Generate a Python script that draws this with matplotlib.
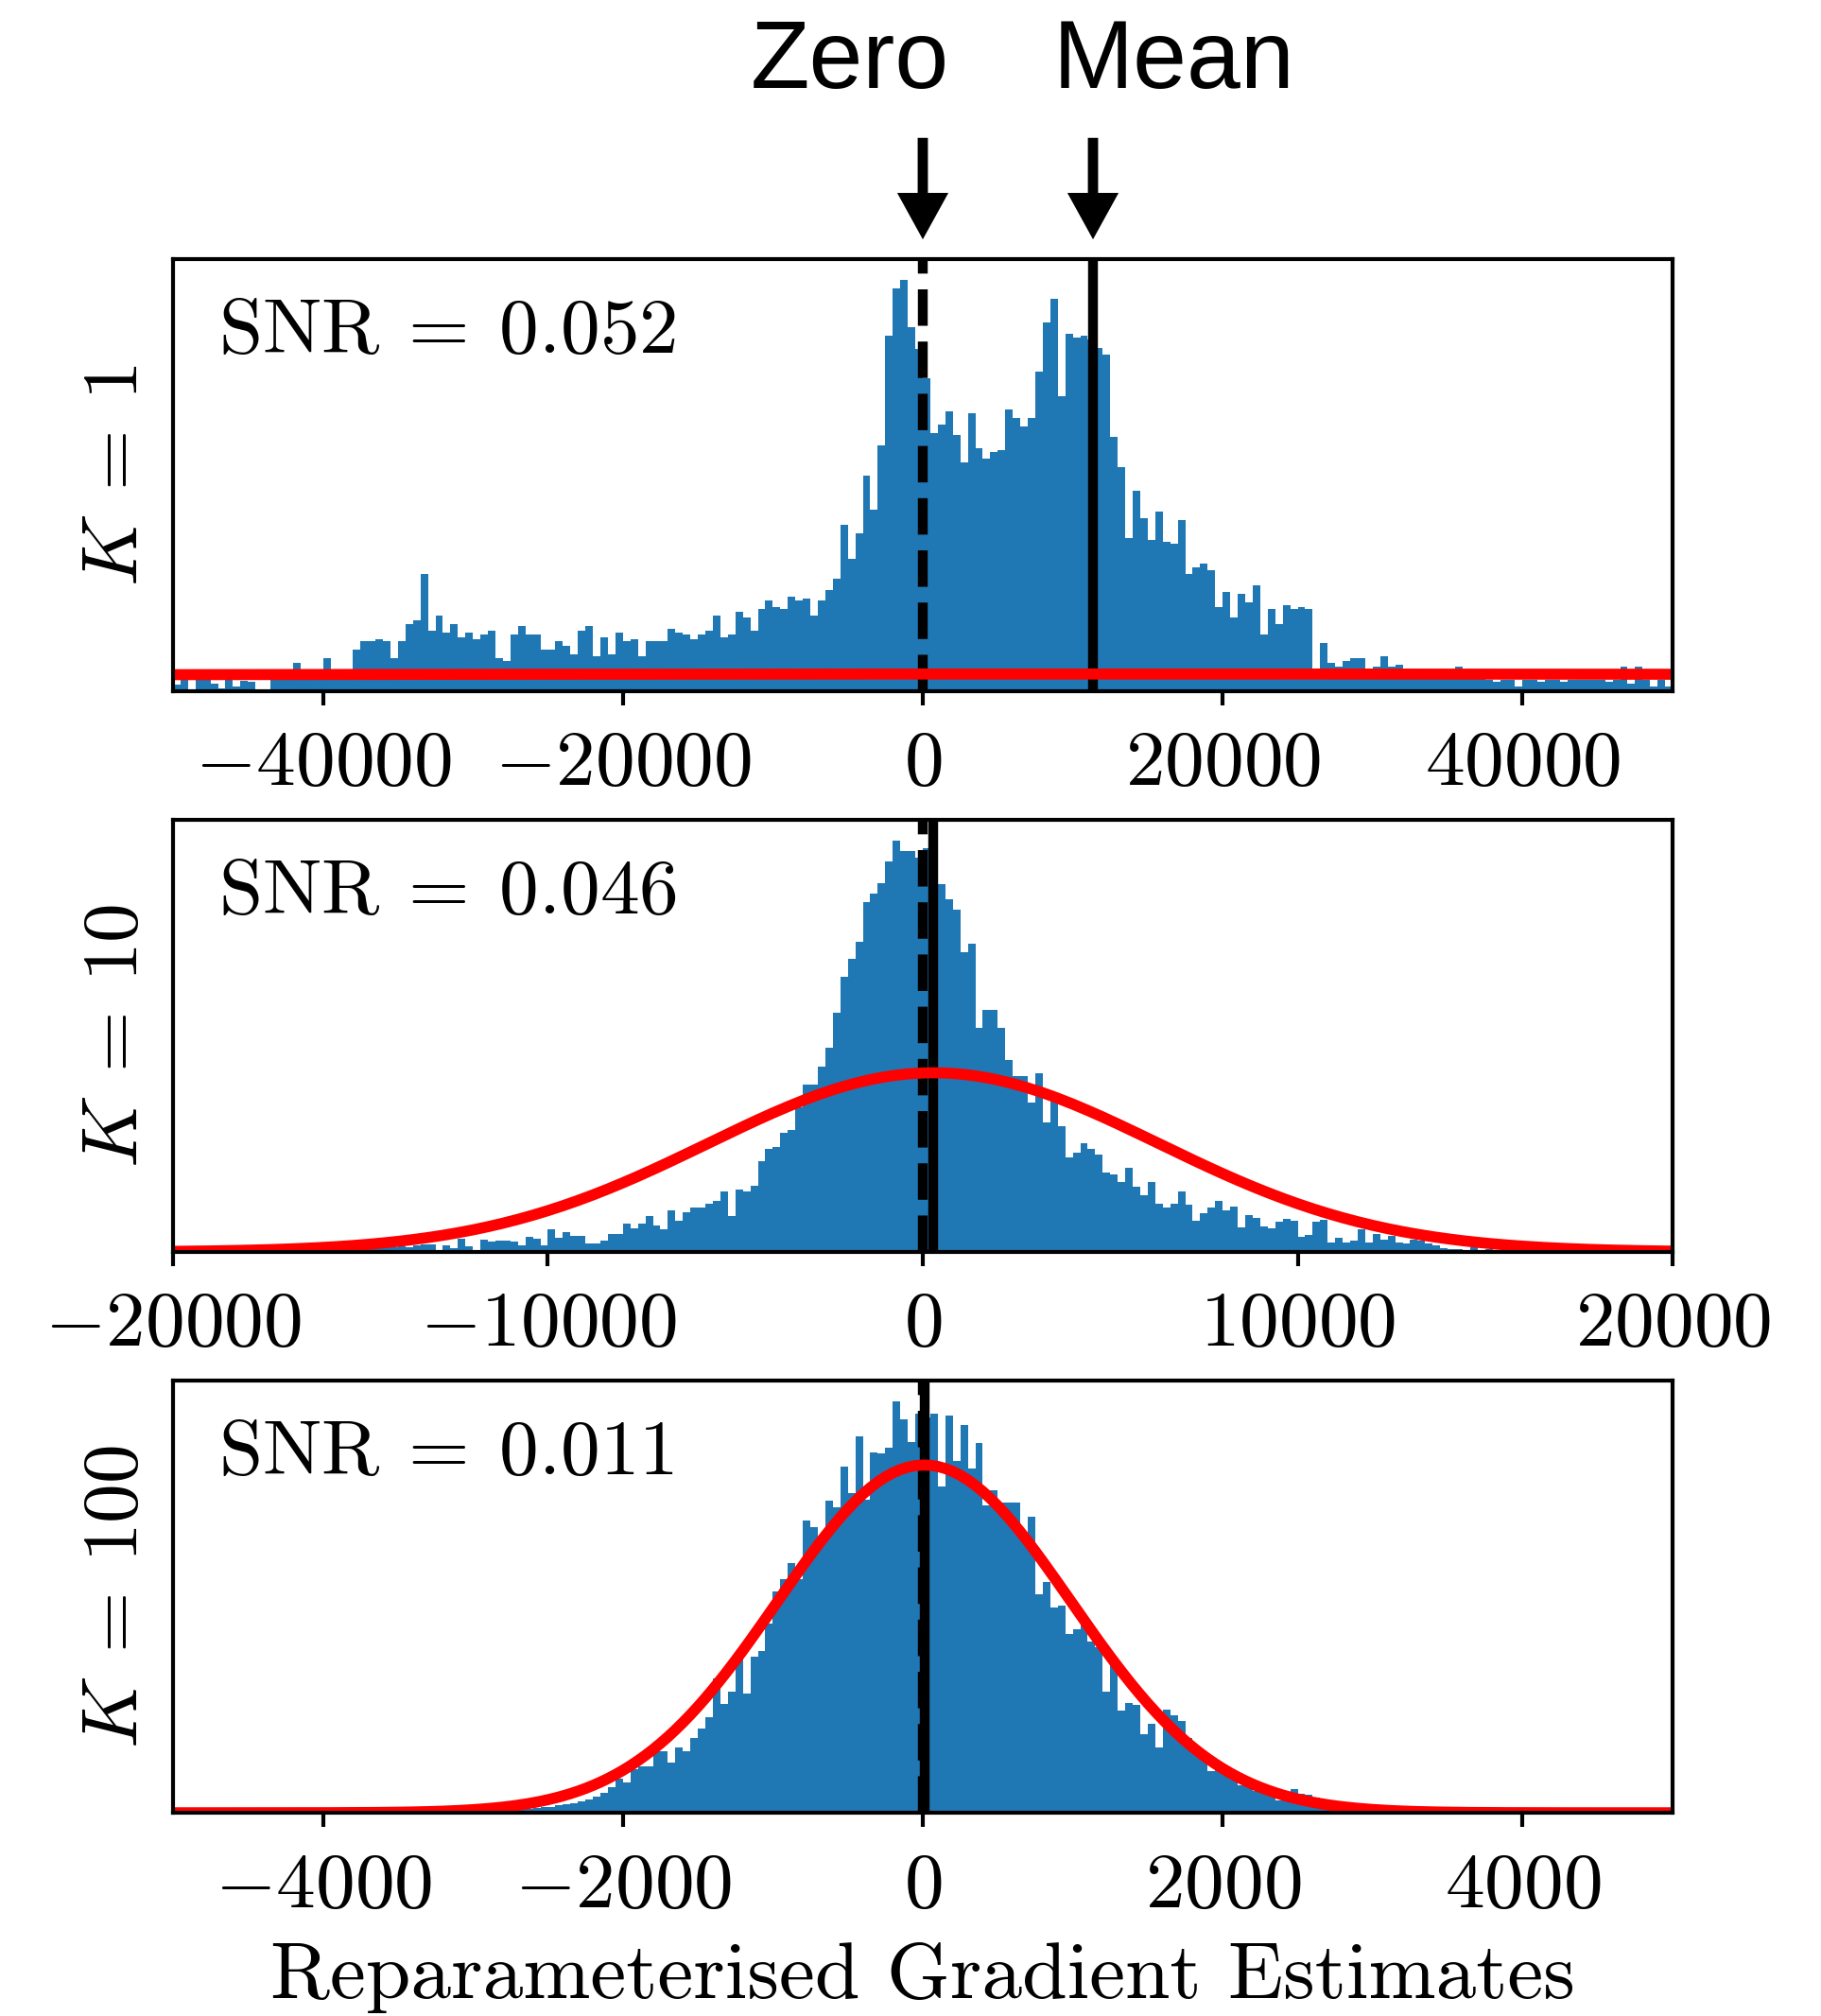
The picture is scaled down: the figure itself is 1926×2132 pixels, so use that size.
import numpy as np
import matplotlib
matplotlib.use('Agg')
import matplotlib.pyplot as plt
from matplotlib.ticker import FuncFormatter

plt.rcParams['mathtext.fontset'] = 'cm'
plt.rcParams['font.size'] = 20
plt.rcParams['axes.linewidth'] = 1.0
plt.rcParams['xtick.major.width'] = 1.0
plt.rcParams['xtick.major.pad'] = 5

# bar heights (relative counts), 200 equal bins per panel
k1_counts = [
    7, 12, 1, 12, 23, 8, 3, 12, 5, 11, 10, 1, 1, 14, 15, 16, 30, 17, 18, 19,
    35, 20, 23, 23, 44, 53, 53, 55, 53, 35, 53, 71, 75, 123, 64, 80, 62, 71, 57, 62,
    55, 60, 64, 35, 32, 60, 69, 60, 60, 44, 44, 53, 48, 39, 64, 69, 37, 57, 39, 62,
    53, 55, 37, 53, 53, 53, 66, 62, 60, 55, 60, 64, 80, 57, 60, 84, 78, 64, 87, 96,
    89, 87, 100, 96, 98, 80, 96, 107, 118, 175, 139, 166, 227, 191, 259, 374, 424, 433, 383, 360,
    329, 272, 281, 295, 270, 241, 293, 256, 245, 252, 254, 297, 288, 279, 288, 336, 388, 413, 311, 376,
    372, 374, 370, 361, 354, 268, 236, 161, 211, 182, 159, 189, 157, 155, 180, 123, 130, 134, 127, 89,
    105, 78, 103, 94, 112, 60, 87, 71, 91, 87, 89, 87, 15, 51, 30, 26, 32, 35, 35, 23,
    26, 37, 26, 28, 15, 15, 23, 15, 23, 15, 15, 26, 14, 14, 14, 12, 10, 12, 12, 5,
    12, 12, 10, 12, 12, 10, 12, 12, 12, 12, 12, 10, 12, 26, 8, 26, 12, 5, 12, 5,
]
k10_counts = [
    0, 0, 1, 0, 0, 1, 0, 1, 1, 0, 1, 1, 0, 2, 1, 1, 2, 1, 2, 2,
    9, 3, 4, 3, 5, 4, 4, 6, 5, 5, 6, 5, 7, 8, 8, 2, 7, 4, 14, 6,
    2, 13, 11, 12, 12, 11, 7, 16, 14, 7, 24, 15, 21, 17, 17, 9, 9, 12, 19, 19,
    29, 25, 29, 37, 28, 24, 43, 32, 41, 46, 46, 50, 53, 63, 37, 65, 63, 69, 94, 107,
    109, 124, 127, 150, 174, 174, 193, 212, 249, 286, 305, 323, 364, 373, 384, 406, 428, 417, 417, 410,
    420, 411, 383, 367, 356, 312, 321, 233, 252, 252, 233, 200, 183, 183, 155, 186, 135, 156, 131, 98,
    103, 113, 107, 101, 83, 81, 73, 88, 68, 59, 73, 50, 46, 50, 63, 49, 32, 40, 46, 53,
    43, 47, 26, 38, 35, 27, 25, 31, 34, 32, 16, 18, 31, 33, 10, 15, 10, 12, 24, 10,
    19, 13, 17, 10, 9, 13, 12, 9, 7, 4, 3, 3, 0, 5, 1, 3, 1, 1, 2, 1,
    1, 1, 1, 0, 1, 1, 1, 0, 1, 1, 1, 0, 1, 1, 0, 1, 0, 0, 1, 0,
]
k100_counts = [
    0, 0, 0, 0, 0, 0, 0, 0, 0, 0, 0, 0, 0, 0, 0, 0, 0, 0, 0, 0,
    0, 0, 0, 0, 0, 0, 0, 0, 1, 0, 0, 1, 0, 1, 1, 1, 1, 1, 1, 1,
    2, 2, 2, 3, 3, 3, 4, 4, 5, 6, 6, 8, 9, 10, 12, 14, 17, 21, 27, 36,
    32, 46, 49, 49, 65, 65, 53, 69, 65, 79, 88, 100, 141, 114, 127, 166, 125, 164, 170, 199,
    232, 245, 262, 245, 307, 300, 282, 328, 321, 363, 336, 395, 329, 378, 377, 383, 432, 413, 389, 419,
    415, 419, 343, 417, 369, 407, 361, 388, 323, 339, 326, 326, 326, 289, 311, 229, 242, 216, 218, 188,
    193, 203, 180, 174, 127, 159, 107, 115, 113, 82, 93, 69, 108, 102, 96, 79, 66, 59, 44, 48,
    41, 36, 29, 29, 23, 23, 20, 13, 20, 25, 20, 19, 16, 11, 3, 6, 5, 4, 3, 3,
    2, 2, 2, 1, 1, 2, 1, 1, 0, 1, 1, 0, 1, 0, 0, 1, 0, 0, 0, 1,
    0, 0, 0, 0, 0, 0, 0, 0, 0, 0, 0, 0, 0, 0, 0, 0, 0, 0, 0, 0,
]

k_values = [1, 10, 100]
snr_labels = ['0.052', '0.046', '0.011']
grad_means = [11350, 280, 10]      # position of the solid "Mean" line
grad_stds = [218000, 6000, 980]    # std of the fitted normal (red curve)
x_limits = [(-50000, 50000), (-20000, 20000), (-5000, 5000)]
x_ticks = [[-40000, -20000, 0, 20000, 40000],
           [-20000, -10000, 0, 10000, 20000],
           [-4000, -2000, 0, 2000, 4000]]
n_bins = 200

fig = plt.figure(figsize=(6.42, 7.1067), dpi=300)
bottoms = [0.6571, 0.3790, 0.1008]
axes = [fig.add_axes([0.095, b, 0.8235, 0.2143]) for b in bottoms]

all_counts = [k1_counts, k10_counts, k100_counts]
for i, ax in enumerate(axes):
    lo, hi = x_limits[i]
    edges = np.linspace(lo, hi, n_bins + 1)
    centers = (edges[:-1] + edges[1:]) / 2
    ax.hist(centers, bins=edges, weights=all_counts[i], density=True, color='C0')

    ax.axvline(0, color='black', linestyle='--', linewidth=2.5)
    ax.axvline(grad_means[i], color='black', linewidth=2.5)

    mu, sd = grad_means[i], grad_stds[i]
    xs = edges[:-1]
    pdf = np.exp(-0.5 * ((xs - mu) / sd) ** 2) / (sd * np.sqrt(2 * np.pi))
    ax.plot(xs, pdf, color='red', linewidth=2.8)

    ax.set_xlim(lo, hi)
    ax.set_xticks(x_ticks[i])
    ax.xaxis.set_major_formatter(FuncFormatter(lambda v, p: f'${v:.0f}$'))
    ax.set_yticks([])
    ax.set_ylabel(rf'$K\:=\:{k_values[i]}$', fontsize=20, labelpad=5)
    ax.text(0.03, 0.783, rf'$\mathrm{{SNR}}\:=\:{snr_labels[i]}$',
            transform=ax.transAxes, va='baseline', fontsize=20)

axes[2].set_xlabel('Reparameterised Gradient Estimates', family='cmr10',
                   fontsize=20.5, labelpad=5)

# "Zero" and "Mean" markers above the top panel
ax1 = axes[0]
arrow_kw = dict(facecolor='black', edgecolor='none', width=2.6,
                headwidth=13, headlength=11.8, shrink=0)
for xpos in [0, grad_means[0]]:
    ax1.annotate('', xy=(xpos, 1.046), xytext=(xpos, 1.281),
                 xycoords=('data', 'axes fraction'),
                 textcoords=('data', 'axes fraction'),
                 arrowprops=arrow_kw, annotation_clip=False)
ax1.text(-4850, 1.397, 'Zero', transform=ax1.get_xaxis_transform(),
         ha='center', va='baseline', fontsize=24.5, family='Liberation Sans')
ax1.text(16770, 1.397, 'Mean', transform=ax1.get_xaxis_transform(),
         ha='center', va='baseline', fontsize=24.5, family='Liberation Sans')

fig.savefig('out.png', dpi=300)
